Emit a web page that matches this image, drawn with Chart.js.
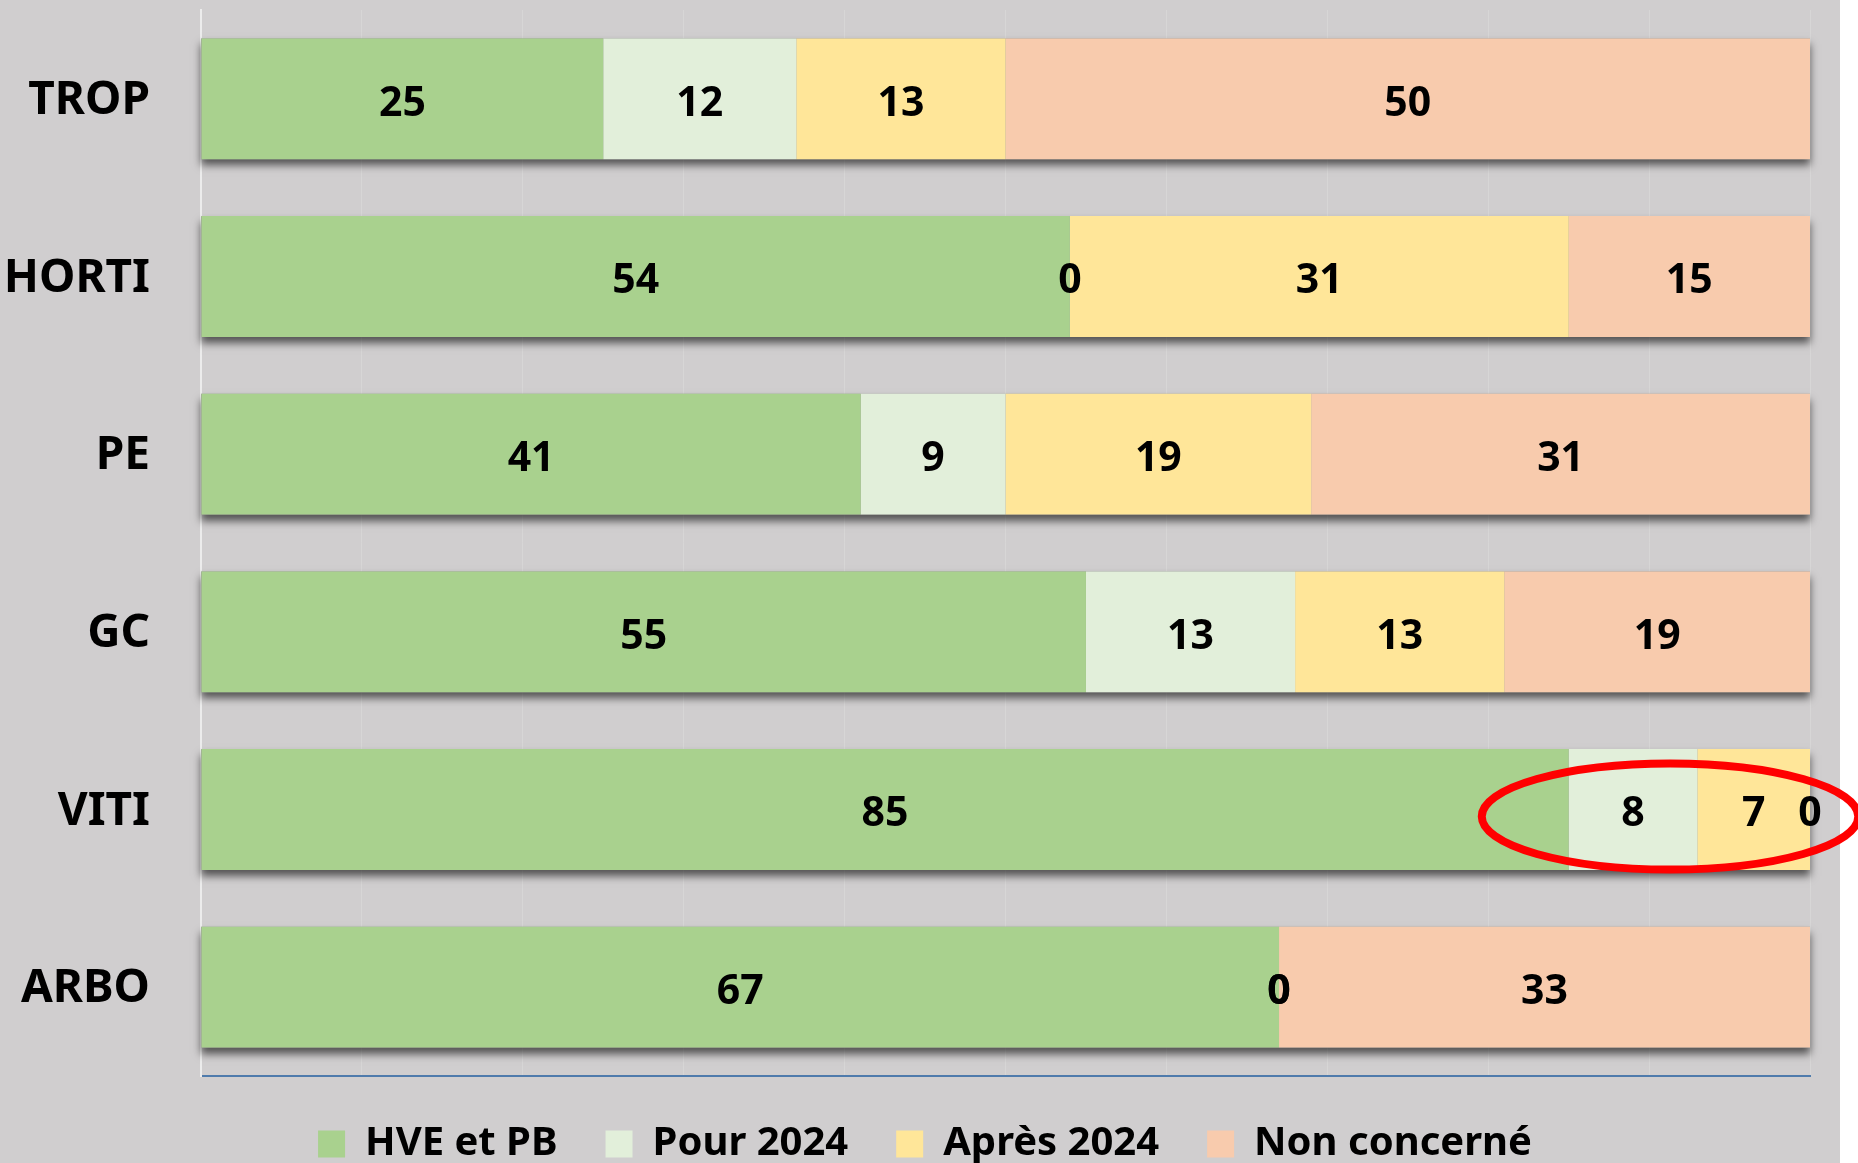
<!DOCTYPE html>
<html>
<head>
<meta charset="utf-8">
<script src="https://cdn.jsdelivr.net/npm/chart.js@4.4.1/dist/chart.umd.min.js"></script>
<style>
  html, body { margin: 0; padding: 0; background: #fff; }
</style>
</head>
<body>
<canvas id="chart" width="1858" height="1163"></canvas>
<script>
const categories = ["TROP", "HORTI", "PE", "GC", "VITI", "ARBO"];
const seriesNames = ["HVE et PB", "Pour 2024", "Après 2024", "Non concerné"];
const hvePb = [25, 54, 41, 55, 85, 67];
const pour2024 = [12, 0, 9, 13, 8, 0];
const apres2024 = [13, 31, 19, 13, 7, 0];
const nonConcerne = [50, 15, 31, 19, 0, 33];
const seriesColors = ["#a9d18e", "#e2efda", "#ffe699", "#f8cbad"];

const FONT = "'Noto Sans', 'Open Sans', sans-serif";

const background = {
  id: "background",
  beforeDraw: (chart) => {
    const { ctx, width, height } = chart;
    ctx.save();
    ctx.fillStyle = "#fff";
    ctx.fillRect(0, 0, width, height);
    ctx.fillStyle = "#d0cecf";
    ctx.fillRect(0, 0, width - 18, height);
    ctx.restore();
  },
};

// legend in the original sits a bit right of the canvas centre
const legendShift = {
  id: "legendShift",
  afterLayout: (chart) => {
    chart.legend.left += 20;
    chart.legend.right += 20;
  },
};

// one shadow per full stacked bar, so segments don't darken each other
const barShadow = {
  id: "barShadow",
  beforeDatasetsDraw: (chart) => {
    const { ctx, scales: { x } } = chart;
    const meta = chart.getDatasetMeta(0);
    ctx.save();
    ctx.shadowColor = "rgba(0, 0, 0, 0.6)";
    ctx.shadowBlur = 8;
    ctx.shadowOffsetY = 6;
    ctx.fillStyle = "#999";
    meta.data.forEach((bar, i) => {
      const total = chart.data.datasets.reduce((s, d) => s + d.data[i], 0);
      const left = x.getPixelForValue(0);
      const right = x.getPixelForValue(total);
      ctx.fillRect(left, bar.y - bar.height / 2, right - left, bar.height);
    });
    ctx.restore();
  },
};

const valueLabels = {
  id: "valueLabels",
  afterDatasetsDraw: (chart) => {
    const { ctx } = chart;
    ctx.save();
    ctx.font = `bold 41px ${FONT}`;
    ctx.fillStyle = "#000";
    ctx.textAlign = "center";
    ctx.textBaseline = "middle";
    chart.data.datasets.forEach((ds, di) => {
      chart.getDatasetMeta(di).data.forEach((bar, i) => {
        ctx.fillText(String(ds.data[i]), (bar.x + bar.base) / 2, bar.y + 5);
      });
    });
    ctx.restore();
  },
};

// red hand-drawn ring around the VITI tail
const ring = {
  id: "ring",
  afterDraw: (chart) => {
    const { ctx, scales: { x, y } } = chart;
    const cx = x.getPixelForValue(91.3);
    const rx = x.getPixelForValue(11.7) - x.getPixelForValue(0);
    const cy = y.getPixelForValue(4) + 7;
    ctx.save();
    ctx.strokeStyle = "#ff0000";
    ctx.lineWidth = 8;
    ctx.beginPath();
    ctx.ellipse(cx, cy, rx, 53, 0, 0, Math.PI * 2);
    ctx.stroke();
    ctx.restore();
  },
};

const datasets = [hvePb, pour2024, apres2024, nonConcerne].map((data, i) => ({
  label: seriesNames[i],
  data,
  backgroundColor: seriesColors[i],
  borderWidth: 0,
  barPercentage: 0.68,
  categoryPercentage: 1,
}));

new Chart(document.getElementById("chart"), {
  type: "bar",
  data: { labels: categories, datasets },
  options: {
    indexAxis: "y",
    responsive: false,
    animation: false,
    layout: { padding: { top: 10, right: 48, left: 0, bottom: -11 } },
    scales: {
      x: {
        stacked: true,
        min: 0,
        max: 100,
        ticks: { display: false, stepSize: 10 },
        grid: { color: "rgba(255, 255, 255, 0.16)", drawTicks: false },
        border: { color: "#4f7bac", width: 2 },
        afterFit: (scale) => {
          scale.height = 0;
        },
      },
      y: {
        stacked: true,
        ticks: {
          padding: 51,
          labelOffset: 2,
          color: "#000",
          font: { family: FONT, size: 46, weight: "bold" },
        },
        grid: { display: false, drawTicks: false },
        border: { color: "#ececec", width: 2 },
        afterFit: (scale) => {
          scale.width = 201;
          scale.paddingTop = 0;
          scale.paddingBottom = 0;
        },
      },
    },
    plugins: {
      tooltip: { enabled: false },
      legend: {
        position: "bottom",
        labels: {
          boxWidth: 27,
          boxHeight: 27,
          padding: 48,
          color: "#000",
          font: { family: FONT, size: 40, weight: "bold" },
        },
      },
    },
  },
  plugins: [background, legendShift, barShadow, valueLabels, ring],
});
</script>
</body>
</html>
